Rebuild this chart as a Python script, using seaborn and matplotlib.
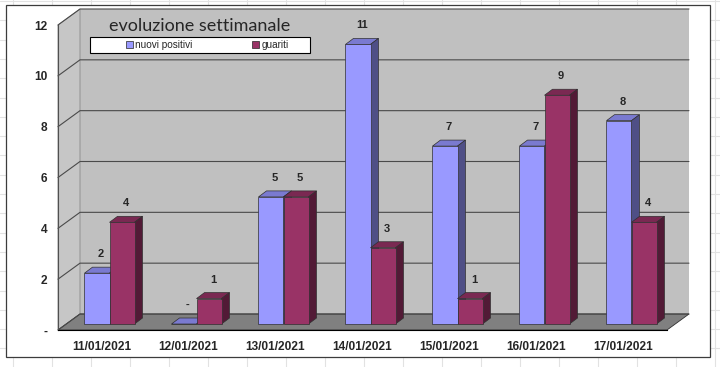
import numpy as np
import pandas as pd
import matplotlib
matplotlib.use('Agg')
import matplotlib.pyplot as plt
import seaborn as sns
from matplotlib.patches import Polygon, Rectangle
from matplotlib.lines import Line2D
from matplotlib.transforms import Affine2D

# chart data
dates = ['11/01/2021', '12/01/2021', '13/01/2021', '14/01/2021',
         '15/01/2021', '16/01/2021', '17/01/2021']
nuovi_positivi = [2, 0, 5, 11, 7, 7, 8]
guariti = [4, 1, 5, 3, 1, 9, 4]
series = ['nuovi positivi', 'guariti']
yticks = [0, 2, 4, 6, 8, 10, 12]
ytick_labels = ['-', '2', '4', '6', '8', '10', '12']

front_colors = ['#9999ff', '#993366']
side_colors = ['#4f4f86', '#521a36']
top_colors = ['#7a7ad0', '#7a2952']

df = pd.DataFrame({
    'data': dates * 2,
    'serie': [series[0]] * len(dates) + [series[1]] * len(dates),
    'valore': nuovi_positivi + guariti,
})

sns.set_style('white')
W, H = 720, 367
fig = plt.figure(figsize=(W / 100, H / 100), dpi=100)
# pixel coords, origin top-left
px = Affine2D().scale(1 / W, -1 / H).translate(0, 1) + fig.transFigure

# spreadsheet cells behind the chart
for x in np.arange(13, W, 39):
    fig.add_artist(Line2D([x, x], [0, H], transform=px, color='#e2e2e2', lw=0.8, zorder=-3))
for y in np.arange(1, H, 19.3):
    fig.add_artist(Line2D([0, W], [y, y], transform=px, color='#e2e2e2', lw=0.8, zorder=-3))
fig.add_artist(Rectangle((6, 5), 704, 352, transform=px, facecolor='white',
                         edgecolor='#3c3c3c', lw=0.9, zorder=-2))

# axes = front plane of the 3d box
ax = fig.add_axes([58 / W, 37 / H, 609 / W, 305 / H])
ax.set_facecolor('none')

sns.barplot(data=df, x='data', y='valore', hue='serie', palette=front_colors,
            saturation=1, width=0.575, edgecolor='#303030', linewidth=0.5,
            legend=False, ax=ax)
ax.set_xlim(-0.5, 6.5)
ax.set_ylim(0, 12)

ppx = 609 / 7
ppy = 305 / 12
def dx(p):
    return p / ppx
def dy(p):
    return p / ppy

# back wall, side wall, floor
bx, by = dx(22), dy(16)
ax.add_patch(Polygon([(-0.5 + bx, by), (6.5 + bx, by), (6.5 + bx, 12 + by), (-0.5 + bx, 12 + by)],
                     closed=True, facecolor='#c0c0c0', edgecolor='none', zorder=0.1, clip_on=False))
ax.add_patch(Polygon([(-0.5, 0), (-0.5 + bx, by), (-0.5 + bx, 12 + by), (-0.5, 12)],
                     closed=True, facecolor='#c6c6c6', edgecolor='#8a8a8a', lw=0.6, zorder=0.2, clip_on=False))
ax.add_patch(Polygon([(-0.5, 0), (6.5, 0), (6.5 + bx, by), (-0.5 + bx, by)],
                     closed=True, facecolor='#808080', edgecolor='#303030', lw=0.6, zorder=0.3, clip_on=False))
for v in yticks:
    ax.plot([-0.5, -0.5 + bx, 6.5 + bx], [v, v + by, v + by], color='#4a4a4a', lw=0.8,
            zorder=0.35, clip_on=False)

# 3d bars: move front face back a little, then add top and side faces
fx, fy = dx(8), dy(6)
ddx, ddy = dx(8), dy(6)
bars = []
for k, cont in enumerate(ax.containers):
    for p, val in zip(cont, cont.datavalues):
        bars.append((p.get_x(), p, val, k))
bars.sort(key=lambda b: b[0])
for i, (_, p, val, k) in enumerate(bars):
    z = 2 + i * 0.1
    p.set_x(p.get_x() + fx)
    p.set_y(fy)
    p.set_zorder(z + 0.05)
    x, w, h = p.get_x(), p.get_width(), p.get_height()
    ax.add_patch(Polygon([(x, fy + h), (x + w, fy + h), (x + w + ddx, fy + h + ddy), (x + ddx, fy + h + ddy)],
                         closed=True, facecolor=top_colors[k], edgecolor='#303030', lw=0.5,
                         zorder=z, clip_on=False))
    ax.add_patch(Polygon([(x + w, fy), (x + w + ddx, fy + ddy), (x + w + ddx, fy + h + ddy), (x + w, fy + h)],
                         closed=True, facecolor=side_colors[k], edgecolor='#303030', lw=0.5,
                         zorder=z, clip_on=False))
    lab = '-' if val == 0 else f'{val:g}'
    ax.text(x + w / 2 + ddx / 2, fy + h + dy(19), lab, ha='center', va='center',
            fontsize=8, fontweight='bold', family='Liberation Sans', zorder=5, clip_on=False)

# axes ticks
ax.set_yticks(yticks, ytick_labels)
ax.set_xticks(range(len(dates)), dates)
ax.set_xticks(np.arange(-0.5, len(dates)), minor=True)
ax.tick_params(axis='x', which='major', length=0, pad=8)
ax.tick_params(axis='x', which='minor', length=3, direction='out', color='black', width=0.8)
ax.tick_params(axis='y', length=2.5, direction='out', pad=5, color='#505050', width=0.8)
ax.set_xlabel('')
ax.set_ylabel('')
for lbl in ax.get_xticklabels() + ax.get_yticklabels():
    lbl.set_fontweight('bold')
    lbl.set_fontsize(8.6)
    lbl.set_family('Liberation Sans')
for s in ['top', 'right']:
    ax.spines[s].set_visible(False)
ax.spines['left'].set_color('#505050')
ax.spines['left'].set_linewidth(0.8)
ax.spines['bottom'].set_color('black')
ax.spines['bottom'].set_linewidth(0.8)

# title and legend inside the plot area
fig.text(200 / W, 1 - 26 / H, 'evoluzione settimanale', ha='center', va='center',
         fontsize=13, family='Lato', zorder=6)
fig.add_artist(Rectangle((90, 37), 220, 16, transform=px, facecolor='white',
                         edgecolor='black', lw=0.8, zorder=4))
handles = [Rectangle((0, 0), 1, 1, facecolor=c, edgecolor='#262626', lw=0.5) for c in front_colors]
fig.legend(handles, series, ncol=2, loc='center left', bbox_to_anchor=(121 / W, 1 - 45 / H),
           frameon=False, borderpad=0, handlelength=0.65, handleheight=0.65,
           handletextpad=0.25, columnspacing=6.0,
           prop={'family': 'Liberation Sans', 'size': 7.2})

fig.savefig('out.png', dpi=100)
